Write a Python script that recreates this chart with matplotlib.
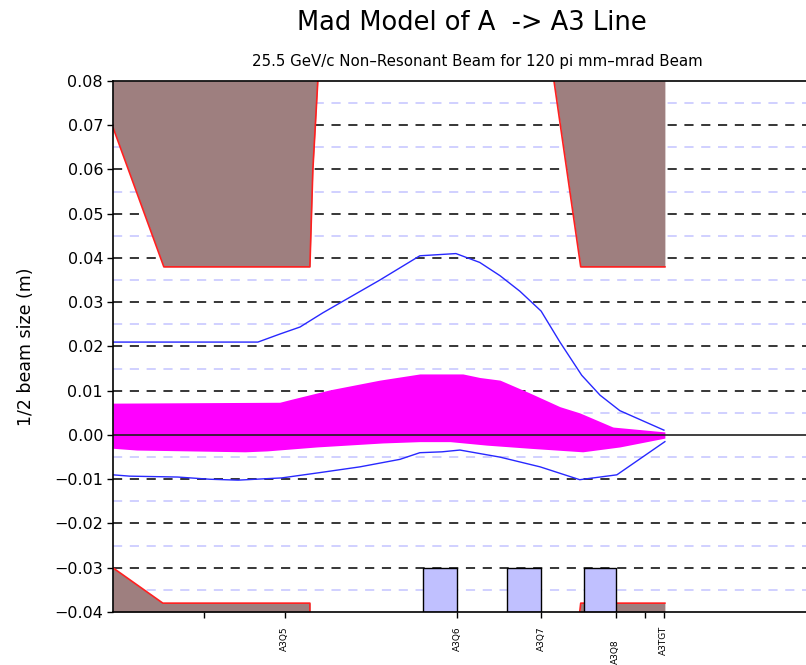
import numpy as np
from matplotlib import pyplot as plt
from matplotlib.ticker import FixedLocator, FuncFormatter

# position along the line (m) and half sizes (m)
s_ap_top_up = [0, 10.3, 39.8, 40.4, 41.4]
ap_top_up = [0.0696, 0.038, 0.038, 0.06, 0.08]
s_ap_top_dn = [89.1, 94.5, 111.5]
ap_top_dn = [0.08, 0.038, 0.038]
s_ap_bot_up = [0, 10.1, 39.8, 39.8]
ap_bot_up = [-0.030, -0.038, -0.038, -0.040]
s_ap_bot_dn = [94.3, 94.5, 111.5]
ap_bot_dn = [-0.040, -0.038, -0.038]

s_env = [0, 29.3, 33.7, 37.8, 42.4, 46.9, 53.9, 62.0, 69.3, 74.1, 78.2,
         82.2, 86.5, 90.3, 94.7, 98.4, 102.4, 111.3]
env_up = [0.021, 0.021, 0.0228, 0.0244, 0.0276, 0.0305, 0.035, 0.0405, 0.041,
          0.039, 0.036, 0.0325, 0.028, 0.021, 0.0135, 0.009, 0.0055, 0.0011]
s_env_lo = [0, 3.4, 13.1, 19.6, 25.3, 34.1, 41.8, 49.9, 58.0, 62.0, 66.5,
            70.1, 78.2, 86.3, 94.3, 101.8, 111.5]
env_lo = [-0.009, -0.0093, -0.0095, -0.0100, -0.0102, -0.0097, -0.0085,
          -0.0072, -0.0055, -0.0040, -0.0038, -0.0034, -0.005, -0.0072,
          -0.0101, -0.009, -0.0015]

s_core_up = [0, 33.7, 35.8, 43.8, 53.9, 62.0, 70.7, 74.1, 78.2, 84.2, 90.3,
             94.3, 101.0, 111.5]
core_up = [0.0072, 0.0074, 0.008, 0.0102, 0.0124, 0.0138, 0.0138, 0.013,
           0.0124, 0.0095, 0.0064, 0.005, 0.0018, 0.0007]
s_core_lo = [0, 4.8, 26.7, 31.1, 41.2, 54.5, 62.0, 68.1, 75.6, 84.2, 94.9,
             102.4, 111.5]
core_lo = [-0.003, -0.0034, -0.0038, -0.0036, -0.0027, -0.0018, -0.0015,
           -0.0015, -0.0023, -0.003, -0.0038, -0.0027, -0.0007]

quad_start = [62.6, 79.6, 95.2]
quad_end = [69.5, 86.5, 101.6]

tick_pos = [18.4, 34.7, 69.5, 86.5, 101.6, 107.5, 111.3]
tick_names = ['', 'A3Q5', 'A3Q6', 'A3Q7', 'A3Q8', '', 'A3TGT']

plt.rcParams['font.family'] = ['DejaVu Sans']

fig = plt.figure(figsize=(8.06, 6.65), dpi=100)
ax = fig.add_axes([0.140, 0.0797, 0.86, 0.7985])
ax.set_xlim(0, 140)
ax.set_ylim(-0.04, 0.08)

# grid
for y in np.arange(-0.03, 0.075, 0.01):
    if abs(y) > 1e-9:
        ax.axhline(y, color='black', lw=1.1, dashes=(6, 5), zorder=1)
for y in np.arange(-0.035, 0.08, 0.01):
    ax.axhline(y, color='#c4c4ff', lw=1.1, dashes=(6, 5), zorder=1)

brown = '#9e7f7f'
red = '#ff2020'
ax.fill_between(s_ap_top_up, ap_top_up, 0.08, color=brown, lw=0, zorder=2)
ax.plot(s_ap_top_up, ap_top_up, color=red, lw=1.2, zorder=3)
ax.fill_between(s_ap_top_dn, ap_top_dn, 0.08, color=brown, lw=0, zorder=2)
ax.plot(s_ap_top_dn, ap_top_dn, color=red, lw=1.2, zorder=3)
ax.fill_between(s_ap_bot_up, ap_bot_up, -0.04, color=brown, lw=0, zorder=2)
ax.plot(s_ap_bot_up, ap_bot_up, color=red, lw=1.2, zorder=3)
ax.fill_between(s_ap_bot_dn, ap_bot_dn, -0.04, color=brown, lw=0, zorder=2)
ax.plot(s_ap_bot_dn, ap_bot_dn, color=red, lw=1.2, zorder=3)

# beam core
s_fine = np.linspace(0, 111.5, 600)
ax.fill_between(s_fine, np.interp(s_fine, s_core_lo, core_lo),
                np.interp(s_fine, s_core_up, core_up),
                color='#ff00ff', lw=0, zorder=4)
ax.axhline(0, color='#202020', lw=1.2, zorder=5)

# envelope
ax.plot(s_env, env_up, color='#2828ff', lw=1.0, zorder=6)
ax.plot(s_env_lo, env_lo, color='#2828ff', lw=1.0, zorder=6)

# quadrupoles
for a, b in zip(quad_start, quad_end):
    ax.bar(a, 0.01, width=b - a, bottom=-0.04, align='edge',
           color='#c0c0ff', edgecolor='black', lw=1.0, zorder=7)

ax.spines['right'].set_visible(False)
for sp in ['left', 'top', 'bottom']:
    ax.spines[sp].set_linewidth(1.2)
    ax.spines[sp].set_zorder(8)

ax.yaxis.set_major_locator(FixedLocator(np.round(np.arange(-0.04, 0.081, 0.01), 2)))
ax.yaxis.set_major_formatter(FuncFormatter(lambda v, p: ('%.2f' % v).replace('-', '\u2212')))
ax.tick_params(axis='y', labelsize=11.5, length=4, width=1, pad=3)
ax.set_xticks(tick_pos)
ax.set_xticklabels(tick_names, rotation=90, fontsize=6.5)
ax.tick_params(axis='x', length=4, width=1, pad=6)
ax.xaxis.get_major_ticks()[4].set_pad(16)

ax.set_ylabel('1/2 beam size (m)', fontsize=12.5, labelpad=14)

fig.text(0.585, 0.966, 'Mad Model of A  -> A3 Line', ha='center', va='center',
         fontsize=18.5)
fig.text(0.592, 0.908, '25.5 GeV/c Non\u2013Resonant Beam for 120 pi mm\u2013mrad Beam',
         ha='center', va='center', fontsize=10.8)

fig.savefig('out.png', dpi=100)
